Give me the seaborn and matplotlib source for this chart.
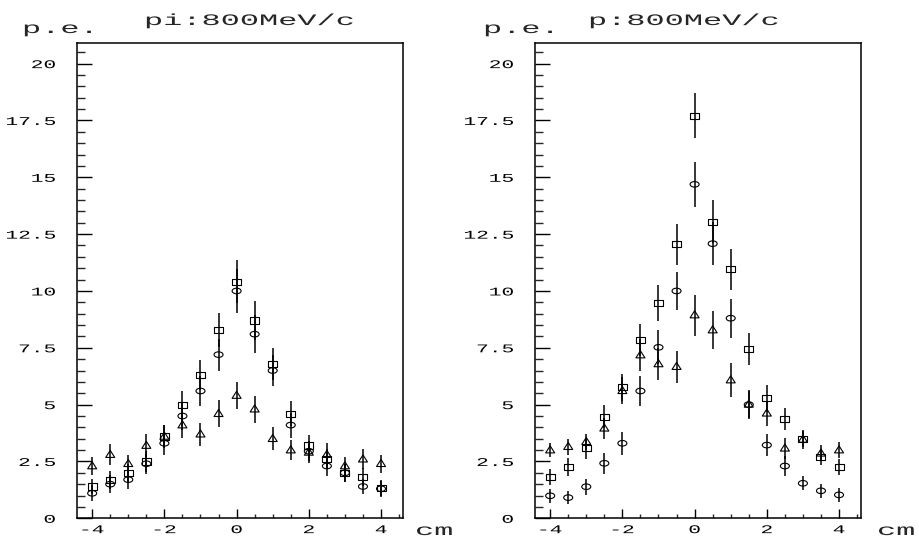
import matplotlib
matplotlib.use("Agg")
import numpy as np
import pandas as pd
import matplotlib.pyplot as plt
import seaborn as sns
from matplotlib.path import Path
from matplotlib.transforms import Affine2D
from matplotlib import patheffects
from matplotlib.ticker import MultipleLocator, FormatStrFormatter

# positions along the scan (cm)
x_cm = [-4, -3.5, -3, -2.5, -2, -1.5, -1, -0.5, 0, 0.5, 1, 1.5, 2, 2.5, 3, 3.5, 4]

# pi : 800 MeV/c
pi_square = [1.4, 1.7, 2.0, 2.5, 3.6, 5.0, 6.3, 8.3, 10.4, 8.7, 6.8, 4.6, 3.2, 2.6, 2.0, 1.8, 1.35]
pi_square_err = [0.35, 0.4, 0.4, 0.45, 0.5, 0.6, 0.65, 0.75, 0.95, 0.85, 0.7, 0.55, 0.45, 0.45, 0.4, 0.4, 0.35]
pi_circle = [1.1, 1.5, 1.7, 2.4, 3.3, 4.5, 5.6, 7.2, 10.0, 8.1, 6.5, 4.1, 2.95, 2.3, 2.0, 1.4, 1.3]
pi_circle_err = [0.35, 0.4, 0.4, 0.45, 0.5, 0.6, 0.65, 0.7, 0.95, 0.85, 0.7, 0.55, 0.45, 0.45, 0.4, 0.35, 0.35]
pi_triangle = [2.3, 2.8, 2.4, 3.2, 3.6, 4.1, 3.7, 4.6, 5.4, 4.8, 3.5, 3.0, 2.9, 2.8, 2.3, 2.6, 2.4]
pi_triangle_err = [0.4, 0.45, 0.4, 0.5, 0.5, 0.55, 0.5, 0.6, 0.6, 0.6, 0.5, 0.45, 0.45, 0.5, 0.4, 0.45, 0.4]

# p : 800 MeV/c
p_square = [1.8, 2.27, 3.08, 4.47, 5.76, 7.84, 9.46, 12.05, 17.71, 13.05, 10.95, 7.46, 5.28, 4.37, 3.47, 2.71, 2.27]
p_square_err = [0.35, 0.4, 0.45, 0.5, 0.6, 0.7, 0.8, 0.9, 1.0, 0.95, 0.9, 0.7, 0.6, 0.5, 0.4, 0.35, 0.35]
p_circle = [0.99, 0.91, 1.39, 2.42, 3.30, 5.6, 7.52, 10.0, 14.69, 12.08, 8.8, 5.0, 3.22, 2.30, 1.54, 1.21, 1.03]
p_circle_err = [0.3, 0.3, 0.35, 0.45, 0.5, 0.65, 0.75, 0.85, 1.0, 0.95, 0.85, 0.65, 0.5, 0.45, 0.3, 0.3, 0.3]
p_triangle = [3.0, 3.15, 3.37, 3.96, 5.61, 7.18, 6.79, 6.67, 8.94, 8.28, 6.08, 5.01, 4.62, 3.08, 3.47, 2.86, 3.0]
p_triangle_err = [0.3, 0.35, 0.35, 0.45, 0.6, 0.7, 0.7, 0.7, 0.9, 0.85, 0.75, 0.6, 0.55, 0.45, 0.35, 0.35, 0.35]

sns.set_style("ticks")
plt.rcParams['font.family'] = ['Liberation Mono', 'DejaVu Sans Mono']
plt.rcParams['axes.unicode_minus'] = False


class Stretch(patheffects.AbstractPathEffect):
    """widen glyphs horizontally (the old HIGZ font is very wide)"""
    def __init__(self, sx, anchor='center'):
        super().__init__()
        self.sx = sx
        self.anchor = anchor

    def draw_path(self, renderer, gc, tpath, affine, rgbFace=None):
        ext = tpath.get_extents()
        cx = {'left': 0.0, 'center': (ext.x0 + ext.x1) / 2, 'right': ext.x1}[self.anchor]
        t = Affine2D().translate(-cx, 0).scale(self.sx, 1).translate(cx, 0) + affine
        renderer.draw_path(gc, tpath, t, rgbFace)


codes4 = [Path.MOVETO, Path.LINETO, Path.LINETO, Path.CLOSEPOLY]
square_m = Path([(-1, -0.68), (1, -0.68), (1, 0.68), (-1, 0.68), (-1, -0.68)],
                [Path.MOVETO, Path.LINETO, Path.LINETO, Path.LINETO, Path.CLOSEPOLY])
triangle_m = Path([(-1, -0.62), (1, -0.62), (0, 0.95), (-1, -0.62)], codes4)
circle_m = Path.unit_circle().transformed(Affine2D().scale(1, 0.62))

W, H = 919, 537
fig = plt.figure(figsize=(W / 100, H / 100), dpi=100)

panels = [
    dict(left=77, title="pi:800MeV/c", tx=144, px=22, cx=415,
         series=[(pi_square, pi_square_err, square_m),
                 (pi_circle, pi_circle_err, circle_m),
                 (pi_triangle, pi_triangle_err, triangle_m)]),
    dict(left=535, title="p:800MeV/c", tx=588, px=483, cx=877,
         series=[(p_square, p_square_err, square_m),
                 (p_circle, p_circle_err, circle_m),
                 (p_triangle, p_triangle_err, triangle_m)]),
]

for pan in panels:
    ax = fig.add_axes([pan['left'] / W, 1 - 518.3 / H, 325.7 / W, 475.6 / H])
    for vals, errs, mk in pan['series']:
        df = pd.DataFrame({'x': x_cm, 'y': vals, 'err': errs})
        ax.errorbar(df['x'], df['y'], yerr=df['err'], fmt='none',
                    ecolor='black', elinewidth=1.1, capsize=0)
        sns.scatterplot(data=df, x='x', y='y', marker=mk, s=42, color='black',
                        facecolor='none', edgecolor='black', linewidth=0.8,
                        zorder=3, ax=ax, legend=False)

    ax.set_xlim(-4.42, 4.6)
    ax.set_ylim(0, 20.92)
    ax.set_xlabel('')
    ax.set_ylabel('')
    ax.set_xticks([-4, -2, 0, 2, 4])
    ax.xaxis.set_minor_locator(MultipleLocator(0.5))
    ax.yaxis.set_major_locator(MultipleLocator(2.5))
    ax.yaxis.set_minor_locator(MultipleLocator(0.5))
    ax.yaxis.set_major_formatter(FormatStrFormatter('%g'))
    ax.set_ylim(0, 20.92)
    for s in ax.spines.values():
        s.set_visible(True)
        s.set_linewidth(1.1)
        s.set_color('black')
    ax.tick_params(axis='x', which='major', direction='in', length=6.5, width=1.0,
                   pad=4.2, labelsize=8.5, colors='black')
    ax.tick_params(axis='x', which='minor', direction='in', length=3.2, width=1.0)
    ax.tick_params(axis='y', which='major', direction='in', length=11, width=1.0,
                   pad=15.5, labelsize=8.5, colors='black')
    ax.tick_params(axis='y', which='minor', direction='in', length=5.8, width=1.0)
    for t in ax.xaxis.get_major_ticks():
        t.label1.set_path_effects([Stretch(1.8, 'center')])
    for t in ax.yaxis.get_major_ticks():
        t.label1.set_path_effects([Stretch(1.8, 'right')])

    fig.text(pan['tx'] / W, 1 - 25 / H, pan['title'], fontsize=11.5, ha='left',
             va='baseline', path_effects=[Stretch(2.0, 'left')])
    fig.text(pan['px'] / W, 1 - 33 / H, "p.e.", fontsize=11.5, ha='left',
             va='baseline', path_effects=[Stretch(2.0, 'left')])
    fig.text(pan['cx'] / W, 1 - 535 / H, "cm", fontsize=11.5, ha='left',
             va='baseline', path_effects=[Stretch(2.0, 'left')])

fig.savefig("out.png", dpi=100)
